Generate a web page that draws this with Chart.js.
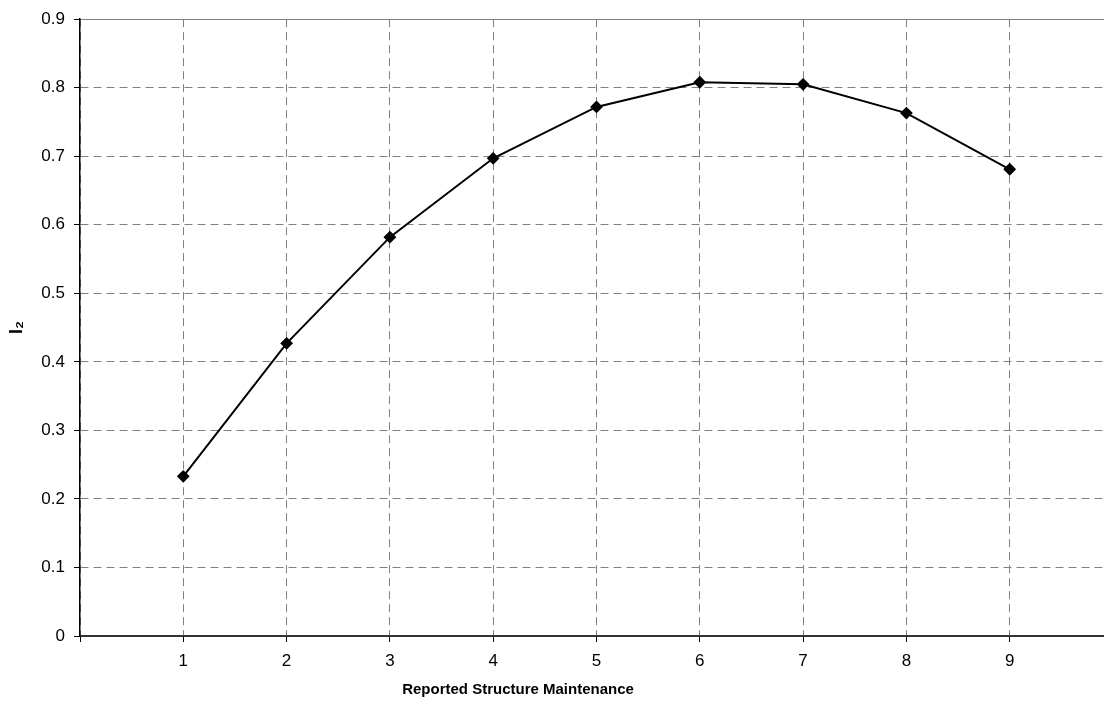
<!DOCTYPE html>
<html>
<head>
<meta charset="utf-8">
<script src="https://cdn.jsdelivr.net/npm/chart.js@4.4.1/dist/chart.umd.min.js"></script>
<style>
  html, body { margin: 0; padding: 0; background: #fff; overflow: hidden; }
  canvas { display: block; }
</style>
</head>
<body>
<!-- canvas is a bit wider than the window: the plot runs off the right edge in the original -->
<canvas id="chart" width="1120" height="711"></canvas>
<script>
// categories on the x axis and the I2 value read for each one
const categories = [1, 2, 3, 4, 5, 6, 7, 8, 9];
const i2Values = [0.233, 0.427, 0.582, 0.697, 0.772, 0.808, 0.805, 0.763, 0.681];
const yTicks = [0, 0.1, 0.2, 0.3, 0.4, 0.5, 0.6, 0.7, 0.8, 0.9];
const xLabel = 'Reported Structure Maintenance';
const yLabel = 'I\u2082';

const font = "'Liberation Sans', Arial, sans-serif";

// x title sits left of the plot centre in the original, so draw it here
const xTitlePlugin = {
  id: 'xTitle',
  afterDraw(chart) {
    const ctx = chart.ctx;
    ctx.save();
    ctx.font = 'bold 15px ' + font;
    ctx.fillStyle = '#000';
    ctx.textAlign = 'center';
    ctx.textBaseline = 'middle';
    ctx.fillText(xLabel, 518, 690);
    ctx.restore();
  }
};

new Chart(document.getElementById('chart'), {
  type: 'line',
  data: {
    datasets: [{
      data: categories.map((c, i) => ({ x: c, y: i2Values[i] })),
      borderColor: '#000',
      borderWidth: 2,
      pointStyle: 'rectRot',
      pointRadius: 5,
      pointBackgroundColor: '#000',
      pointBorderColor: '#000',
      tension: 0,
      fill: false
    }]
  },
  plugins: [xTitlePlugin],
  options: {
    responsive: false,
    animation: false,
    layout: { padding: { top: 13, right: 0, left: 0, bottom: 0 } },
    plugins: { legend: { display: false }, tooltip: { enabled: false } },
    scales: {
      x: {
        type: 'linear',
        min: 0,
        max: 10,
        afterBuildTicks: s => { s.ticks = [0].concat(categories).map(v => ({ value: v })); },
        afterFit: s => { s.height = 75; },
        grid: { color: '#808080', lineWidth: 1, tickLength: 6, tickColor: '#000' },
        border: { display: true, color: '#333', width: 2, dash: [8, 5] },
        ticks: {
          color: '#000',
          font: { family: font, size: 17 },
          padding: 9,
          maxRotation: 0,
          callback: v => (v === 0 ? '' : String(v))
        }
      },
      y: {
        min: 0,
        max: 0.9,
        afterBuildTicks: s => { s.ticks = yTicks.map(v => ({ value: v })); },
        afterFit: s => { s.width = 80; },
        grid: { color: '#808080', lineWidth: 1, tickLength: 6, tickColor: '#000' },
        border: {
          display: true,
          color: '#000',
          width: 1.5,
          dash: ctx => (ctx.tick && ctx.tick.value >= 0.9 ? [] : [8, 5])
        },
        ticks: {
          color: '#000',
          font: { family: font, size: 17 },
          padding: 9,
          callback: v => String(Math.round(v * 10) / 10)
        },
        title: {
          display: true,
          text: yLabel,
          color: '#000',
          font: { family: font, size: 18, weight: 'bold' },
          padding: { top: 6, bottom: 0 }
        }
      }
    }
  }
});
</script>
</body>
</html>
